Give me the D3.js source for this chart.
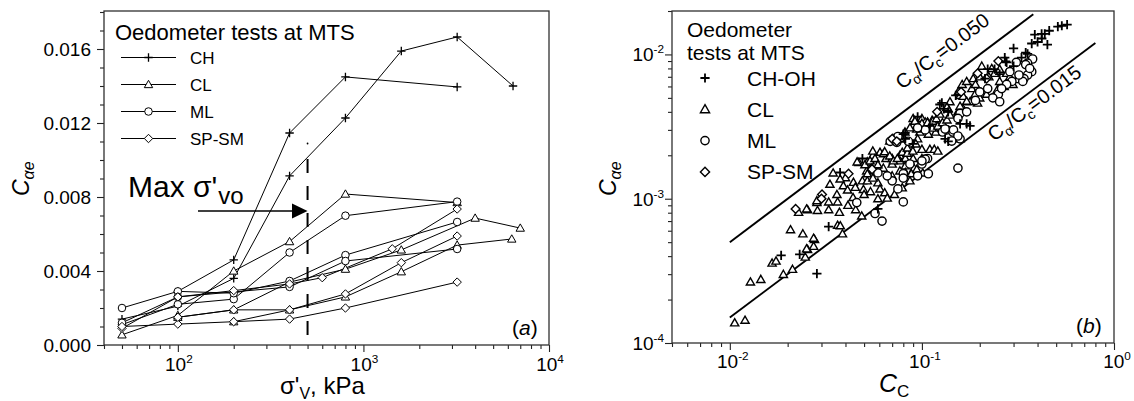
<!DOCTYPE html>
<html><head><meta charset="utf-8">
<script src="https://cdn.jsdelivr.net/npm/d3@7"></script>
<style>
body{margin:0;background:#fff}
svg text{font-family:"Liberation Sans",Arial,Helvetica,sans-serif;fill:#000}
</style>
</head><body>
<svg id="chart" width="1134" height="401"></svg>
<script>
// ---------- Panel (a): C_alpha_e versus vertical effective stress ----------
const chTests = [
  [[100,0.0029],[200,0.0046],[400,0.01146],[800,0.01449],[3200,0.01395]],
  [[50,0.0014],[100,0.0021],[200,0.0036],[400,0.00914],[800,0.01227],[1600,0.01589],[3200,0.01665],[6400,0.0140]]
];
const clTests = [
  [[50,0.00055],[100,0.0016],[200,0.0040],[400,0.00559],[800,0.00816],[3200,0.0077]],
  [[100,0.0015],[200,0.0019],[400,0.0034],[800,0.0041],[1600,0.00514],[4000,0.00686],[7000,0.00632]],
  [[200,0.00126],[400,0.0019],[800,0.0026],[1600,0.00396],[3200,0.0054],[6300,0.00573]]
];
const mlTests = [
  [[50,0.0011],[100,0.0022],[200,0.00248],[400,0.0050],[800,0.00699],[3200,0.00775]],
  [[50,0.0020],[100,0.0029],[200,0.0028],[400,0.00346],[800,0.00486],[3200,0.00665]],
  [[50,0.0012],[100,0.0026],[400,0.00314],[800,0.00454],[3200,0.00519]]
];
const spTests = [
  [[50,0.0009],[100,0.0026],[200,0.00294],[400,0.0033],[600,0.00364],[1430,0.0052],[3200,0.00735]],
  [[50,0.0010],[100,0.00113],[200,0.00126],[400,0.0014],[800,0.0020],[3200,0.0034]],
  [[100,0.0015],[200,0.0019],[400,0.0019],[800,0.00276],[1600,0.00445],[3200,0.00589]]
];
const maxStress = 500;
const yTicksA = [0, 0.004, 0.008, 0.012, 0.016];
const xDecadesA = [2, 3, 4];
const legendA = ["CH", "CL", "ML", "SP-SM"];

// ---------- Panel (b): C_alpha_e versus C_c ----------
const chPts = [
  [0.51,0.0156],[0.535,0.0158],[0.57,0.0161],[0.387,0.0137],[0.42,0.0139],[0.436,0.0139],
  [0.373,0.0119],[0.421,0.0129],[0.45,0.0117],[0.30,0.0110],[0.347,0.0103],[0.355,0.0101],
  [0.273,0.00895],[0.22,0.0079],[0.239,0.0079],[0.276,0.0088],[0.124,0.0045],[0.13,0.0042],
  [0.137,0.0040],[0.158,0.0033],[0.171,0.0033],[0.178,0.0032],[0.132,0.0026],[0.137,0.0025],
  [0.080,0.0028],[0.090,0.0024],[0.049,0.0019],[0.0375,0.00152],[0.059,0.00085],[0.0327,0.00064],
  [0.0284,0.000303],[0.0231,0.000411],[0.0185,0.000405],[0.0818,0.00286],[0.127,0.00461],
  [0.095,0.0037],[0.110,0.0032],[0.15,0.0052],[0.213,0.0068],[0.254,0.0073],[0.30,0.0083],
  [0.082,0.0026],[0.33,0.0095],[0.27,0.0095],[0.40,0.0122],[0.46,0.0146]
];
const clPts = [
  [0.0106,0.000138],[0.0120,0.000144],[0.0128,0.000265],[0.0145,0.000276],[0.0166,0.000358],
  [0.0174,0.000370],[0.0190,0.000299],[0.0212,0.000324],[0.0207,0.000610],[0.0240,0.000571],
  [0.0247,0.000394],[0.0254,0.000445],[0.0276,0.000522],[0.0273,0.000468],[0.0228,0.000805],
  [0.0254,0.00084],[0.0286,0.00083],[0.0284,0.00094],[0.0327,0.00084],[0.0364,0.000655],
  [0.0376,0.00065],[0.0372,0.000805],[0.0327,0.00095],[0.0364,0.00095],[0.0386,0.000571],
  [0.0412,0.00090],[0.0452,0.00084],[0.0486,0.00076],[0.0251,0.00085],[0.0284,0.00097],
  [0.0273,0.000533],[0.0251,0.00045],[0.047,0.00178],[0.0516,0.00156],[0.0332,0.00126],
  [0.0390,0.00123],[0.0361,0.00107],[0.0496,0.00116],[0.0438,0.00102],
  [0.205,0.0083],[0.231,0.0080],[0.239,0.0074],[0.254,0.0079],[0.276,0.0074],[0.287,0.0070],
  [0.313,0.0067],[0.298,0.0062],[0.254,0.0065],[0.268,0.0060],[0.247,0.0057],[0.162,0.0062],
  [0.171,0.0065],[0.182,0.0058],[0.189,0.0053],[0.200,0.0050],[0.217,0.0053],[0.195,0.0046],
  [0.178,0.0047],[0.164,0.0042],[0.154,0.0040],[0.158,0.0052],[0.140,0.0047],[0.137,0.0042],
  [0.090,0.0036],[0.100,0.0036],[0.107,0.0034],[0.113,0.0035],[0.118,0.0029],[0.108,0.0028],
  [0.0976,0.0029],[0.095,0.0026],[0.0866,0.0031],[0.0816,0.0029],[0.079,0.0026],[0.0866,0.0024],
  [0.093,0.0024],[0.100,0.0022],[0.110,0.0022],[0.0556,0.0020],[0.0605,0.0021],[0.065,0.0019],
  [0.070,0.0019],[0.0768,0.0020],[0.082,0.0019],[0.090,0.0019],[0.0515,0.00174],[0.057,0.00174],
  [0.063,0.00163],[0.070,0.00174],[0.0768,0.00183],[0.082,0.00169],[0.091,0.00163],[0.100,0.0019],
  [0.049,0.00133],[0.052,0.00133],[0.059,0.00129],[0.0605,0.00117],[0.064,0.00110],[0.054,0.00112],
  [0.050,0.00107],[0.070,0.00144],[0.0768,0.00156],[0.082,0.00152],[0.088,0.00149],[0.0866,0.00133],
  [0.079,0.00119],[0.072,0.00107],[0.066,0.00101],[0.059,0.00100],[0.046,0.00180],[0.052,0.00180],
  [0.0555,0.00214],[0.063,0.00205],[0.0918,0.00345],[0.104,0.0034],[0.040,0.00140],[0.044,0.00130],
  [0.0345,0.00151],[0.0375,0.00137],[0.0505,0.00172],[0.0537,0.00183],[0.057,0.0019],[0.059,0.00172],
  [0.055,0.00163],[0.064,0.00212],[0.068,0.00198],[0.071,0.00183],[0.0745,0.0019],[0.079,0.0021],
  [0.084,0.00207],[0.084,0.00225],[0.0897,0.00214],[0.068,0.00251],[0.0707,0.00261],[0.0768,0.00261],
  [0.092,0.00345],[0.100,0.00333],[0.094,0.00304],[0.107,0.00337],[0.114,0.00345],[0.119,0.00359],
  [0.113,0.00309],[0.121,0.00319],[0.128,0.00337],[0.135,0.00352],[0.140,0.0038],[0.154,0.00386],
  [0.158,0.00438],[0.135,0.0043],[0.124,0.00386],[0.155,0.00555],[0.164,0.00513],[0.171,0.00474],
  [0.158,0.0026],[0.116,0.0022],[0.121,0.00214],[0.094,0.0016],[0.101,0.00151],[0.052,0.00149],
  [0.0556,0.00139],[0.185,0.0068],[0.20,0.0070],[0.223,0.0070],[0.19,0.0062],[0.041,0.00115],
  [0.045,0.0012]
];
const mlPts = [
  [0.377,0.0093],[0.355,0.0087],[0.347,0.0085],[0.373,0.0076],[0.355,0.0072],[0.34,0.0068],
  [0.335,0.0065],[0.364,0.0080],[0.287,0.0076],[0.294,0.0065],[0.276,0.0062],[0.250,0.0053],
  [0.234,0.0050],[0.254,0.0047],[0.158,0.0039],[0.171,0.0040],[0.154,0.0036],[0.135,0.0030],
  [0.145,0.0029],[0.158,0.0026],[0.128,0.0029],[0.108,0.00149],[0.107,0.0019],[0.100,0.00174],
  [0.0866,0.00174],[0.154,0.00163],[0.104,0.00188],[0.146,0.0030],[0.0684,0.0025],[0.104,0.0030],
  [0.070,0.00133],[0.075,0.00117],[0.080,0.00149],[0.080,0.00095],[0.0458,0.00094],[0.057,0.00079],
  [0.075,0.0027],[0.085,0.0025],[0.095,0.0031],[0.062,0.00070],[0.20,0.0055],[0.19,0.0048],
  [0.074,0.00246],[0.132,0.00304],[0.154,0.00272],[0.143,0.00251],[0.100,0.00183],[0.066,0.00144],
  [0.059,0.00151],[0.080,0.00139],[0.095,0.00144],[0.31,0.0088],[0.32,0.0072],[0.26,0.0058],
  [0.22,0.0058]
];
const spPts = [
  [0.0302,0.00107],[0.0415,0.00149],[0.195,0.0074],[0.217,0.0068],[0.070,0.0026],[0.074,0.0025],
  [0.022,0.00085],[0.12,0.0040],[0.25,0.0090],[0.055,0.0016],[0.16,0.0055],[0.030,0.0010]
];
const ratioLines = [
  {ratio: 0.050, from: 0.01, to: 0.38, label: "0.050"},
  {ratio: 0.015, from: 0.01, to: 0.80, label: "0.015"}
];
const xDecadesB = [-2, -1, 0];
const yDecadesB = [-4, -3, -2];
const legendB = ["CH-OH", "CL", "ML", "SP-SM"];

// ---------- helpers ----------
const svg = d3.select("#chart");
const INK = "#000";

function marker(g, type, x, y, s, sw) {
  if (type === "plus") {
    g.append("path").attr("d", `M${x-s},${y}H${x+s}M${x},${y-s}V${y+s}`)
      .attr("stroke", INK).attr("stroke-width", sw * 1.3).attr("fill", "none");
  } else if (type === "tri") {
    g.append("path").attr("d", `M${x},${y-s}L${x+s},${y+s*0.75}L${x-s},${y+s*0.75}Z`)
      .attr("stroke", INK).attr("stroke-width", sw).attr("fill", "#fff");
  } else if (type === "circ") {
    g.append("circle").attr("cx", x).attr("cy", y).attr("r", s * 0.9)
      .attr("stroke", INK).attr("stroke-width", sw).attr("fill", "#fff");
  } else {
    g.append("path").attr("d", `M${x},${y-s}L${x+s},${y}L${x},${y+s}L${x-s},${y}Z`)
      .attr("stroke", INK).attr("stroke-width", sw).attr("fill", "#fff");
  }
}

function powLabel(g, x, y, exp, size, anchor) {
  const t = g.append("text").attr("x", x).attr("y", y).attr("font-size", size)
    .attr("text-anchor", anchor || "middle");
  t.append("tspan").text("10");
  t.append("tspan").attr("dy", -size * 0.42).attr("font-size", size * 0.62).text(exp);
  return t;
}

// ================= Panel (a) =================
const xA = d3.scaleLog().domain([40, 10000]).range([104, 549]);
const yA = d3.scaleLinear().domain([0, 0.018]).range([345, 12]);
const gA = svg.append("g");

const yMinorA = d3.range(0, 19).map(i => i / 1000).filter(v => !yTicksA.some(t => Math.abs(t - v) < 1e-9));
gA.append("g").attr("transform", "translate(104,0)")
  .call(d3.axisLeft(yA).tickValues(yMinorA).tickSize(4).tickFormat(() => ""));
gA.append("g").attr("transform", "translate(104,0)")
  .call(d3.axisLeft(yA).tickValues(yTicksA).tickSize(7).tickFormat(() => ""));
const xMinorA = [];
[1, 2, 3].forEach(d => { for (let m = 2; m <= 9; m++) { const v = m * Math.pow(10, d); if (v >= 40 && v <= 10000) xMinorA.push(v); } });
gA.append("g").attr("transform", "translate(0,345)")
  .call(d3.axisBottom(xA).tickValues(xMinorA).tickSize(4).tickFormat(() => ""));
gA.append("g").attr("transform", "translate(0,345)")
  .call(d3.axisBottom(xA).tickValues(xDecadesA.map(d => Math.pow(10, d))).tickSize(7).tickFormat(() => ""));
gA.selectAll(".domain").remove();
gA.selectAll(".tick line").attr("stroke", "#222").attr("stroke-width", 1.1);

gA.append("rect").attr("x", 104).attr("y", 11).attr("width", 445).attr("height", 334)
  .attr("fill", "none").attr("stroke", "#303030").attr("stroke-width", 1.3);

yTicksA.forEach(v => {
  gA.append("text").attr("x", 91).attr("y", yA(v) + 7).attr("font-size", 19)
    .attr("text-anchor", "end").text(d3.format(".3f")(v));
});
xDecadesA.forEach(d => powLabel(gA, xA(Math.pow(10, d)) + 1, 371, d, 19));

{
  const t = gA.append("text").attr("transform", "translate(29,196) rotate(-90)").attr("font-size", 23);
  t.append("tspan").attr("font-style", "italic").text("C");
  t.append("tspan").attr("dy", 5).attr("font-size", 16).attr("font-style", "italic").text("αe");
}
{
  const t = gA.append("text").attr("x", 280).attr("y", 394).attr("font-size", 24);
  t.append("tspan").text("σ'");
  t.append("tspan").attr("dy", 5).attr("font-size", 16).text("V");
  t.append("tspan").attr("dy", -5).text(", kPa");
}

// maximum past vertical stress
gA.append("circle").attr("cx", xA(maxStress)).attr("cy", 143.5).attr("r", 0.9).attr("fill", INK);
gA.append("line").attr("x1", xA(maxStress)).attr("x2", xA(maxStress))
  .attr("y1", 159).attr("y2", 345).attr("stroke", INK).attr("stroke-width", 2)
  .attr("stroke-dasharray", "14,13");
gA.append("line").attr("x1", 198).attr("x2", 293).attr("y1", 211).attr("y2", 211)
  .attr("stroke", INK).attr("stroke-width", 1.6);
gA.append("path").attr("d", `M292,203.5L${xA(maxStress)},211L292,218.5Z`).attr("fill", INK);
{
  const t = gA.append("text").attr("x", 128).attr("y", 197).attr("font-size", 30);
  t.append("tspan").text("Max σ'");
  t.append("tspan").attr("dx", 1).attr("dy", 7).attr("font-size", 24).text("vo");
}

const lineA = d3.line().x(d => xA(d[0])).y(d => yA(d[1]));
const groupsA = [
  {tests: chTests, type: "plus"},
  {tests: clTests, type: "tri"},
  {tests: mlTests, type: "circ"},
  {tests: spTests, type: "diam"}
];
groupsA.forEach(gr => gr.tests.forEach(ts => {
  gA.append("path").attr("d", lineA(ts)).attr("fill", "none").attr("stroke", INK).attr("stroke-width", 1);
}));
groupsA.forEach(gr => gr.tests.forEach(ts => ts.forEach(p => marker(gA, gr.type, xA(p[0]), yA(p[1]), 4.2, 1))));

gA.append("text").attr("x", 115).attr("y", 40).attr("font-size", 22).text("Oedometer tests at MTS");
legendA.forEach((name, i) => {
  const cy = 57.5 + i * 27;
  gA.append("line").attr("x1", 121).attr("x2", 176).attr("y1", cy).attr("y2", cy)
    .attr("stroke", INK).attr("stroke-width", 1);
  marker(gA, groupsA[i].type, 148.5, cy, 4.2, 1);
  gA.append("text").attr("x", 190).attr("y", cy + 6.3).attr("font-size", 17).text(name);
});
{
  const t = gA.append("text").attr("x", 512).attr("y", 335).attr("font-size", 21);
  t.append("tspan").text("(");
  t.append("tspan").attr("font-style", "italic").text("a");
  t.append("tspan").text(")");
}

// ================= Panel (b) =================
const xB = d3.scaleLog().domain([0.005, 1]).range([672, 1114]);
const yB = d3.scaleLog().domain([1e-4, 0.02]).range([343, 11]);
const gB = svg.append("g");

const minorOf = (decs, lo, hi) => {
  const out = [];
  decs.forEach(d => { for (let m = 2; m <= 9; m++) { const v = m * Math.pow(10, d); if (v >= lo * 0.999 && v <= hi * 1.001) out.push(v); } });
  return out;
};
gB.append("g").attr("transform", "translate(672,0)")
  .call(d3.axisLeft(yB).tickValues(minorOf([-4, -3, -2], 1e-4, 0.02)).tickSize(4).tickFormat(() => ""));
gB.append("g").attr("transform", "translate(672,0)")
  .call(d3.axisLeft(yB).tickValues(yDecadesB.map(d => Math.pow(10, d))).tickSize(7).tickFormat(() => ""));
gB.append("g").attr("transform", "translate(0,343)")
  .call(d3.axisBottom(xB).tickValues(minorOf([-3, -2, -1], 0.005, 1)).tickSize(4).tickFormat(() => ""));
gB.append("g").attr("transform", "translate(0,343)")
  .call(d3.axisBottom(xB).tickValues(xDecadesB.map(d => Math.pow(10, d))).tickSize(7).tickFormat(() => ""));
gB.selectAll(".domain").remove();
gB.selectAll(".tick line").attr("stroke", "#222").attr("stroke-width", 1.1);

gB.append("rect").attr("x", 672).attr("y", 11).attr("width", 442).attr("height", 332)
  .attr("fill", "none").attr("stroke", "#303030").attr("stroke-width", 1.3);

yDecadesB.forEach(d => powLabel(gB, 664, yB(Math.pow(10, d)) + 7, d, 19, "end"));
xDecadesB.forEach(d => powLabel(gB, xB(Math.pow(10, d)) + 3, 368, d, 19));

{
  const t = gB.append("text").attr("transform", "translate(616,196) rotate(-90)").attr("font-size", 23);
  t.append("tspan").attr("font-style", "italic").text("C");
  t.append("tspan").attr("dy", 5).attr("font-size", 16).attr("font-style", "italic").text("αe");
}
{
  const t = gB.append("text").attr("x", 879).attr("y", 392).attr("font-size", 25);
  t.append("tspan").attr("font-style", "italic").text("C");
  t.append("tspan").attr("dy", 5).attr("font-size", 17).text("C");
}

// C_alpha/C_c reference lines
ratioLines.forEach(r => {
  gB.append("line")
    .attr("x1", xB(r.from)).attr("y1", yB(r.ratio * r.from))
    .attr("x2", xB(r.to)).attr("y2", yB(r.ratio * r.to))
    .attr("stroke", INK).attr("stroke-width", 1.9);
});
const ang = -Math.atan((yB(1e-3) - yB(1e-2)) / (xB(0.1) - xB(0.01))) * 180 / Math.PI;
function ratioLabel(x, y, txt) {
  const t = gB.append("text").attr("transform", `translate(${x},${y}) rotate(${ang})`).attr("font-size", 20);
  t.append("tspan").text("C");
  t.append("tspan").attr("dy", 5).attr("font-size", 14).text("α");
  t.append("tspan").attr("dy", -5).text("/C");
  t.append("tspan").attr("dy", 5).attr("font-size", 14).text("c");
  t.append("tspan").attr("dy", -5).text("=" + txt);
}
ratioLabel(902, 90, ratioLines[0].label);
ratioLabel(994, 142, ratioLines[1].label);

const groupsB = [
  {pts: clPts, type: "tri", s: 4.1},
  {pts: mlPts, type: "circ", s: 4.6},
  {pts: spPts, type: "diam", s: 4.4},
  {pts: chPts, type: "plus", s: 4.6}
];
groupsB.forEach(gr => gr.pts.forEach(p => marker(gB, gr.type, xB(p[0]), yB(p[1]), gr.s, 1.4)));

gB.append("text").attr("x", 687).attr("y", 37).attr("font-size", 21).text("Oedometer");
gB.append("text").attr("x", 687).attr("y", 60).attr("font-size", 21).text("tests at MTS");
legendB.forEach((name, i) => {
  const cy = 78 + i * 31.3;
  marker(gB, groupsB[[3, 0, 1, 2][i]].type, 705, cy, 4.6, 1.4);
  gB.append("text").attr("x", 747).attr("y", cy + 7.5).attr("font-size", 21).text(name);
});
{
  const t = gB.append("text").attr("x", 1076).attr("y", 333).attr("font-size", 21);
  t.append("tspan").text("(");
  t.append("tspan").attr("font-style", "italic").text("b");
  t.append("tspan").text(")");
}
</script>
</body></html>
